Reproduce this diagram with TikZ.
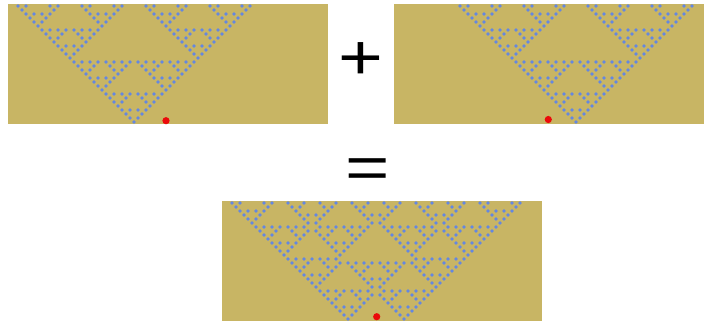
\documentclass[tikz,border=0pt]{standalone}
\usepackage{fontspec}
\setmainfont{Liberation Sans}
\usepackage{graphicx}
\definecolor{tanbg}{RGB}{200,181,100}
\definecolor{celblue}{RGB}{100,135,225}
\definecolor{dotred}{RGB}{235,10,10}
\newcount\mycr \newcount\myck \newcount\tmpa \newcount\tmpb \newcount\tmpc
\newif\ifbinodd
\def\testbin#1#2{\mycr=#1\relax \myck=#2\relax \binoddtrue
  \loop\ifnum\myck>0
    \tmpa=\mycr \divide\tmpa by 2 \multiply\tmpa by 2 \advance\tmpa by -\mycr
    \tmpb=\myck \divide\tmpb by 2 \multiply\tmpb by 2 \advance\tmpb by -\myck
    \ifnum\tmpb<\tmpa\relax \binoddfalse\fi
    \divide\mycr by 2 \divide\myck by 2
  \repeat}
\def\iscell#1#2{\binoddfalse
  \tmpc=\numexpr#2\relax \ifnum\tmpc<0 \tmpc=-\tmpc\fi
  \ifnum\tmpc>\numexpr#1\relax\else
    \tmpc=\numexpr#1+(#2)\relax
    \ifodd\tmpc\else \testbin{#1}{\numexpr(#1+(#2))/2\relax}\fi
  \fi}
\tikzset{
  panel/.style={fill=tanbg, draw=none},
  cell/.style={fill=celblue},
  origin/.style={fill=dotred},
  sign/.style={inner sep=0pt, text=black}
}
\begin{document}
\begin{tikzpicture}[x=1pt,y=-1pt]
\useasboundingbox (0,0) rectangle (704,322);
% panels
\fill[panel] (8,4) rectangle (328,124);
\fill[panel] (394,4) rectangle (704,124);
\fill[panel] (222,201) rectangle (542,321);
% panel 1: apex column 31
\begin{scope}[shift={(8,4)}]
\foreach \r in {0,...,29}{
  \foreach \k in {0,...,\r}{
    \iscell{\r}{2*\k-\r}%
    \ifbinodd \fill[cell] ({4*(31+2*\k-\r)+2},{4*(29-\r)+2}) circle[radius=1.95pt];\fi
  }}
\end{scope}
% panel 2: apex column 45
\begin{scope}[shift={(394,4)}]
\foreach \r in {0,...,29}{
  \foreach \k in {0,...,\r}{
    \iscell{\r}{2*\k-\r}%
    \ifbinodd \fill[cell] ({4*(45+2*\k-\r)+2},{4*(29-\r)+2}) circle[radius=1.95pt];\fi
  }}
\end{scope}
% panel 3: XOR of both
\begin{scope}[shift={(222,201)}]
\foreach \r in {0,...,29}{
  \foreach \k in {0,...,\r}{
    \iscell{\r}{2*\k-\r}%
    \ifbinodd
      \iscell{\r}{31+2*\k-\r-45}%
      \ifbinodd\else \fill[cell] ({4*(31+2*\k-\r)+2},{4*(29-\r)+2}) circle[radius=1.95pt];\fi
    \fi
    \iscell{\r}{2*\k-\r}%
    \ifbinodd
      \iscell{\r}{45+2*\k-\r-31}%
      \ifbinodd\else \fill[cell] ({4*(45+2*\k-\r)+2},{4*(29-\r)+2}) circle[radius=1.95pt];\fi
    \fi
  }}
\end{scope}
% origin markers
\coordinate (o1) at (166,120.7);
\coordinate (o2) at (548.3,119.5);
\coordinate (o3) at (376.7,316.7);
\fill[origin] (o1) circle[radius=3.6pt];
\fill[origin] (o2) circle[radius=3.6pt];
\fill[origin] (o3) circle[radius=3.6pt];
% signs
\node[sign, font=\fontsize{64}{64}\selectfont] (plus) at (361.3,60.7) {\scalebox{1.2}[1]{+}};
\node[sign, font=\fontsize{76}{76}\selectfont] (eq) at (368,173.3) {\scalebox{1}[0.8]{=}};
\end{tikzpicture}
\end{document}
